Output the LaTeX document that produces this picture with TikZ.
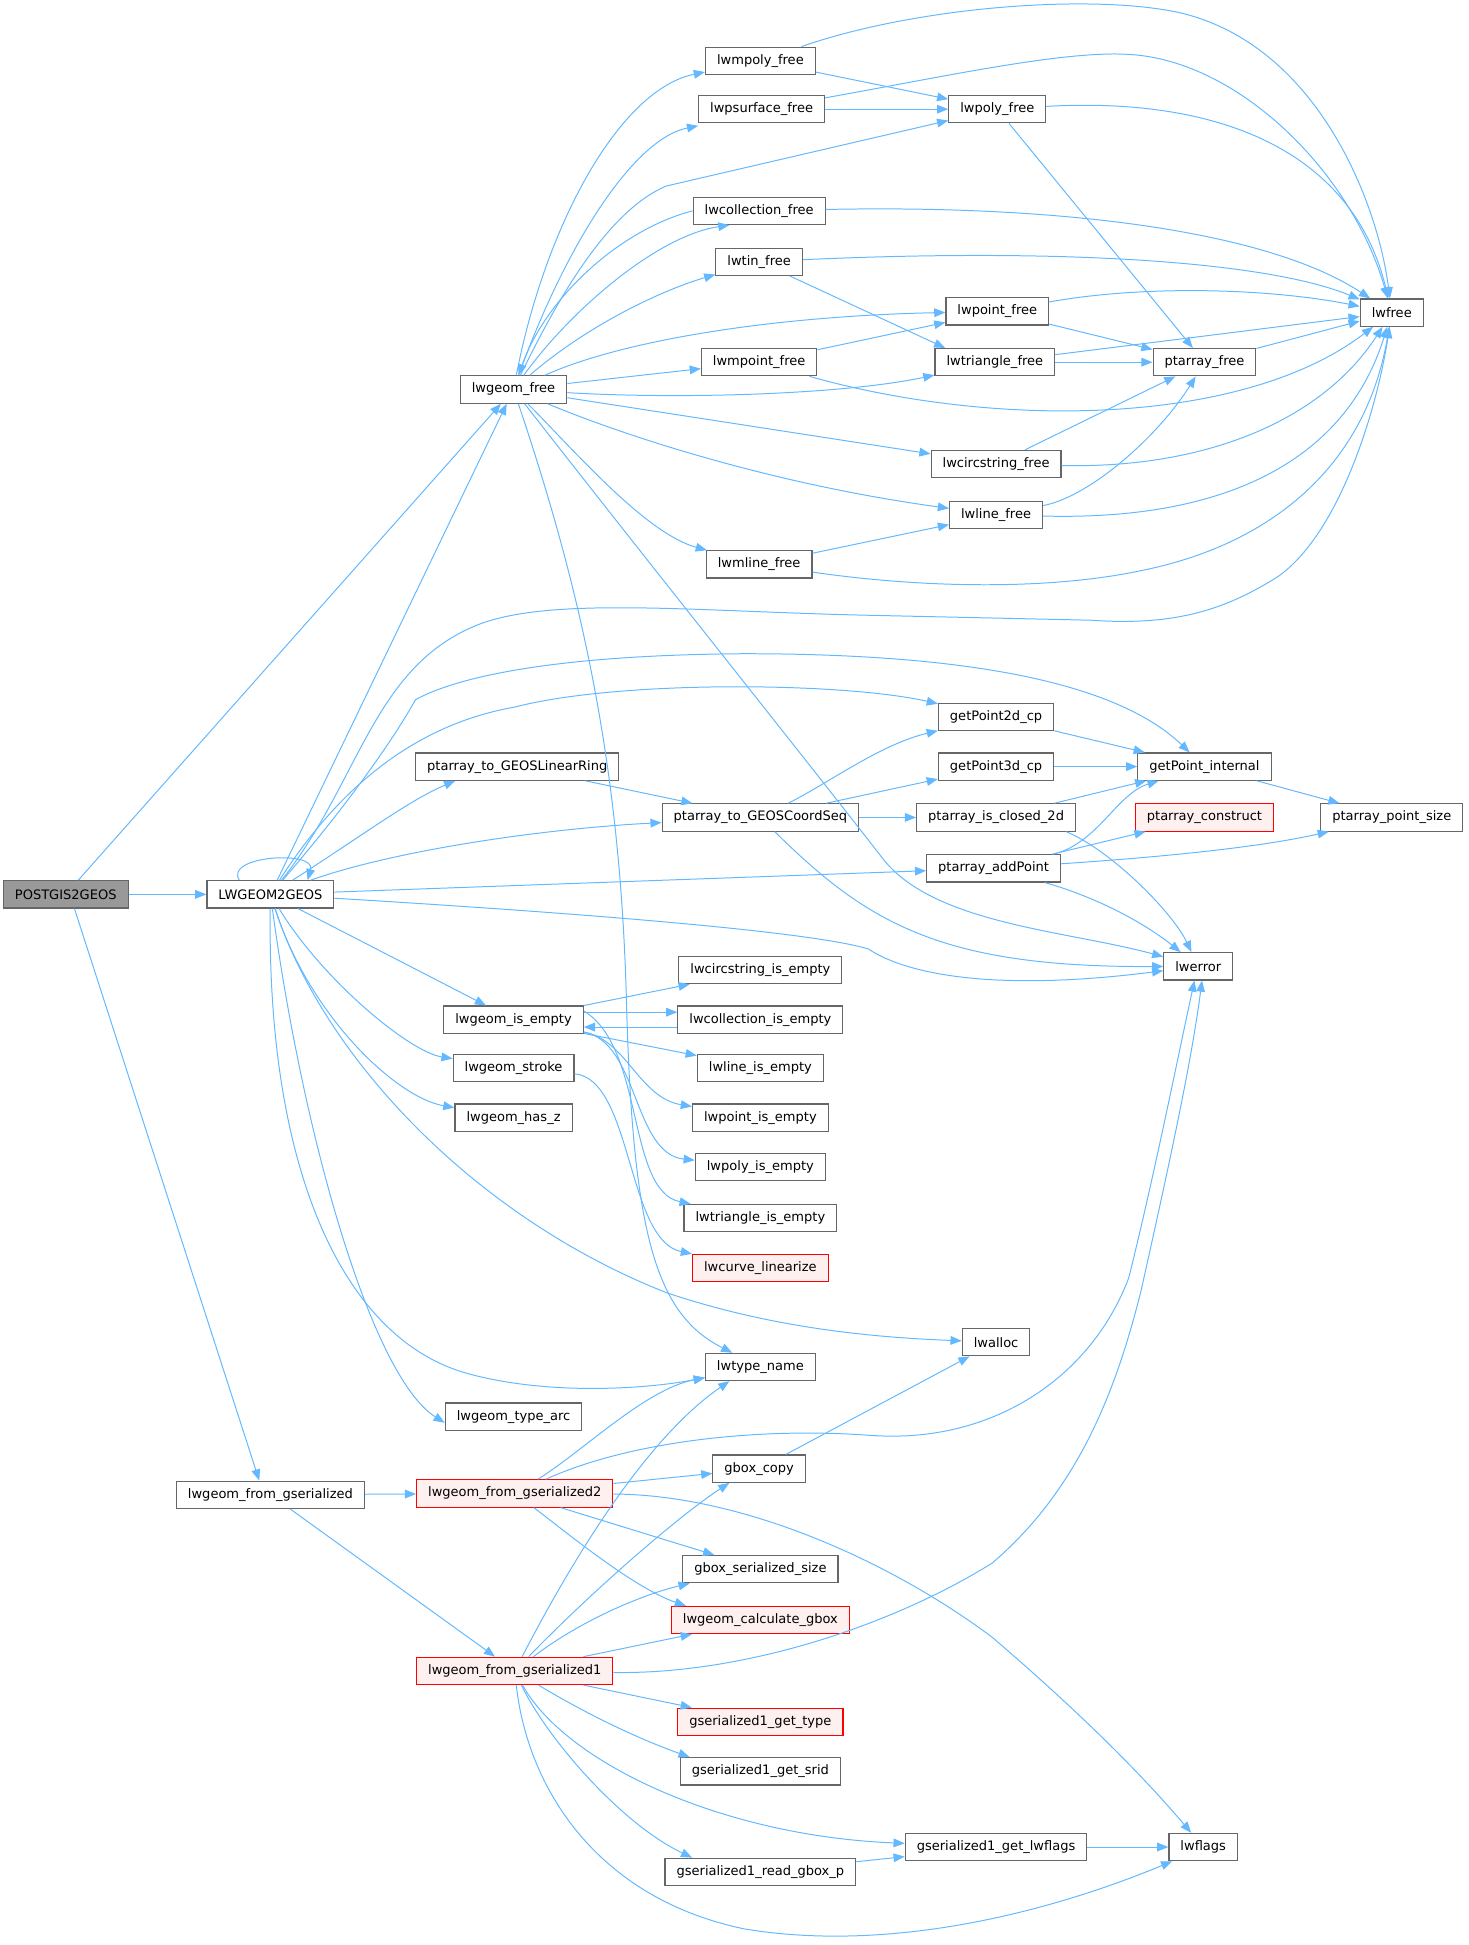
\documentclass[tikz,border=0pt]{standalone}
\usepackage{fontspec}
\usetikzlibrary{arrows.meta}
\newfontfamily\dxfont{DejaVu Sans}

\definecolor{edgeblue}{HTML}{63B8FF}
\definecolor{boxgray}{HTML}{666666}
\definecolor{rootgray}{HTML}{999999}
\definecolor{nodered}{HTML}{FF0000}
\definecolor{redfill}{HTML}{FFF0F0}

\tikzset{
  fn/.style={draw=boxgray, line width=0.9pt, fill=white, minimum height=22pt,
    inner xsep=9.3pt, inner ysep=0pt, font=\dxfont\fontsize{10.5}{12}\selectfont},
  fnroot/.style={fn, fill=rootgray},
  fnred/.style={fn, draw=nodered, fill=redfill},
  call/.style={draw=edgeblue, line width=0.8pt, -{Triangle[length=9pt,width=7pt]}}
}

\begin{document}
\begin{tikzpicture}[x=1pt,y=1pt,yscale=-1]
\useasboundingbox (0,0) rectangle (1184,1568);

% Nodes
\node[fnroot] (root) at (53,721) {POSTGIS2GEOS};
\node[fn] (lwg2g) at (218,721) {LWGEOM2GEOS};
\node[fn] (fromgs) at (218,1205) {lwgeom\_from\_gserialized};
\node[fn] (free) at (414,314) {lwgeom\_free};
\node[fn] (mpolyfree) at (613,49) {lwmpoly\_free};
\node[fn] (psurffree) at (614,88) {lwpsurface\_free};
\node[fn] (polyfree) at (804,88) {lwpoly\_free};
\node[fn] (collfree) at (612,170) {lwcollection\_free};
\node[fn] (tinfree) at (612,211) {lwtin\_free};
\node[fn] (pointfree) at (804,251) {lwpoint\_free};
\node[fn] (lwfree) at (1122,252) {lwfree};
\node[fn] (mpointfree) at (612,292) {lwmpoint\_free};
\node[fn] (trifree) at (802,292) {lwtriangle\_free};
\node[fn] (pafree) at (971,292) {ptarray\_free};
\node[fn] (circfree) at (803,374) {lwcircstring\_free};
\node[fn] (linefree) at (803,415) {lwline\_free};
\node[fn] (mlinefree) at (612,455) {lwmline\_free};
\node[fn] (gp2d) at (803,578) {getPoint2d\_cp};
\node[fn] (gp3d) at (803,618) {getPoint3d\_cp};
\node[fn] (gpint) at (971,618) {getPoint\_internal};
\node[fn] (linring) at (417,618) {ptarray\_to\_GEOSLinearRing};
\node[fn] (coordseq) at (613,659) {ptarray\_to\_GEOSCoordSeq};
\node[fn] (isclosed) at (803,659) {ptarray\_is\_closed\_2d};
\node[fnred] (pacons) at (971,659) {ptarray\_construct};
\node[fn] (ptsize) at (1122,659) {ptarray\_point\_size};
\node[fn] (addpt) at (801,700) {ptarray\_addPoint};
\node[fn] (lwerror) at (966,779) {lwerror};
\node[fn] (circempty) at (613,782) {lwcircstring\_is\_empty};
\node[fn] (isempty) at (414,822) {lwgeom\_is\_empty};
\node[fn] (collempty) at (613,822) {lwcollection\_is\_empty};
\node[fn] (lineempty) at (613,861) {lwline\_is\_empty};
\node[fn] (stroke) at (414,861) {lwgeom\_stroke};
\node[fn] (pointempty) at (613,901) {lwpoint\_is\_empty};
\node[fn] (hasz) at (414,901) {lwgeom\_has\_z};
\node[fn] (polyempty) at (613,941) {lwpoly\_is\_empty};
\node[fn] (triempty) at (613,982) {lwtriangle\_is\_empty};
\node[fnred] (linearize) at (613,1022) {lwcurve\_linearize};
\node[fn] (lwalloc) at (803,1082) {lwalloc};
\node[fn] (typename) at (613,1102) {lwtype\_name};
\node[fn] (typearc) at (414,1142) {lwgeom\_type\_arc};
\node[fn] (gboxcopy) at (612,1184) {gbox\_copy};
\node[fnred] (fromgs2) at (415,1204) {lwgeom\_from\_gserialized2};
\node[fn] (gboxsize) at (613,1265) {gbox\_serialized\_size};
\node[fnred] (calcgbox) at (613,1306) {lwgeom\_calculate\_gbox};
\node[fnred] (fromgs1) at (415,1347) {lwgeom\_from\_gserialized1};
\node[fnred] (gettype) at (613,1388) {gserialized1\_get\_type};
\node[fn] (getsrid) at (613,1428) {gserialized1\_get\_srid};
\node[fn] (getflags) at (803,1489) {gserialized1\_get\_lwflags};
\node[fn] (lwflags) at (970,1489) {lwflags};
\node[fn] (readgbox) at (613,1509) {gserialized1\_read\_gbox\_p};

% POSTGIS2GEOS
\draw[call] (root) -- (free);
\draw[call] (root) -- (lwg2g);
\draw[call] ([xshift=7pt]root.south) -- ([xshift=-9pt]fromgs.north);

% LWGEOM2GEOS
\draw[call] ([xshift=-25pt]lwg2g.north) .. controls (180,690) and (255,685) .. ([xshift=30pt]lwg2g.north);
\draw[call] (lwg2g) -- (free);
\draw[call] (lwg2g) .. controls (290,630) and (300,540) .. (382,505) .. controls (440,480) and (560,493) .. (700,496) -- (880,500) .. controls (950,505) and (990,490) .. (1030,465) .. controls (1080,430) and (1110,330) .. (lwfree);
\draw[call] (lwg2g) .. controls (275,655) and (315,600) .. (335,564) .. controls (370,545) and (450,528) .. (600,527) .. controls (780,527) and (900,550) .. (gpint);
\draw[call] (lwg2g) .. controls (270,640) and (330,585) .. (415,570) .. controls (500,548) and (680,550) .. (gp2d);
\draw[call] (lwg2g) .. controls (290,675) and (330,645) .. ([xshift=-50pt]linring.south);
\draw[call] (lwg2g) .. controls (320,685) and (440,668) .. (coordseq);
\draw[call] (lwg2g) -- (addpt);
\draw[call] (lwg2g) .. controls (450,735) and (650,750) .. (700,765) .. controls (730,785) and (800,800) .. (lwerror);
\draw[call] (lwg2g) -- (isempty);
\draw[call] (lwg2g) .. controls (260,790) and (330,848) .. (stroke);
\draw[call] (lwg2g) .. controls (250,820) and (320,885) .. (hasz);
\draw[call] (lwg2g) .. controls (260,850) and (380,980) .. (537,1042) .. controls (620,1070) and (700,1078) .. (lwalloc);
\draw[call] (lwg2g) .. controls (215,950) and (280,1080) .. (376,1107) .. controls (440,1125) and (520,1120) .. (typename);
\draw[call] (lwg2g) .. controls (245,920) and (300,1110) .. ([yshift=5pt]typearc.west);

% lwgeom_free
\draw[call] (free) .. controls (440,180) and (500,72) .. (mpolyfree);
\draw[call] (free) .. controls (455,200) and (510,112) .. ([yshift=2pt]psurffree.south west);
\draw[call] (free) .. controls (450,240) and (490,170) .. (537,150) -- (polyfree);
\draw[call] (free) .. controls (460,250) and (530,190) .. ([xshift=-24pt]collfree.south);
\draw[call] (collfree.west) .. controls (500,185) and (440,240) .. (free);
\draw[call] (free) .. controls (470,265) and (530,235) .. (tinfree);
\draw[call] (free) .. controls (500,275) and (620,255) .. (pointfree);
\draw[call] (free) -- (mpointfree);
\draw[call] (free) .. controls (550,322) and (680,318) .. (trifree);
\draw[call] (free) -- (circfree);
\draw[call] (free) .. controls (500,350) and (620,390) .. (linefree);
\draw[call] (free) .. controls (460,360) and (520,430) .. (mlinefree);
\draw[call] (free) .. controls (520,450) and (640,600) .. (710,690) .. controls (750,745) and (860,750) .. (lwerror);
\draw[call] (free) .. controls (470,480) and (500,620) .. (505,806) .. controls (510,1000) and (530,1060) .. (typename);

% the *_free functions
\draw[call] (mpolyfree) -- (polyfree);
\draw[call] (mpolyfree) .. controls (740,5) and (880,-5) .. (950,10) .. controls (1060,35) and (1110,160) .. (lwfree);
\draw[call] (psurffree) -- (polyfree);
\draw[call] (psurffree) .. controls (760,62) and (860,40) .. (912,44) .. controls (1000,50) and (1090,140) .. (lwfree);
\draw[call] (polyfree) .. controls (980,78) and (1090,120) .. (lwfree);
\draw[call] (polyfree) -- (pafree);
\draw[call] (collfree) .. controls (850,165) and (1020,185) .. (lwfree);
\draw[call] (tinfree) .. controls (850,200) and (1020,210) .. (lwfree);
\draw[call] (tinfree) -- ([xshift=-40pt]trifree.north);
\draw[call] (pointfree) .. controls (920,230) and (1020,232) .. (lwfree);
\draw[call] (pointfree) -- (pafree);
\draw[call] (mpointfree) -- (pointfree);
\draw[call] (mpointfree) .. controls (800,345) and (1000,345) .. (lwfree);
\draw[call] (trifree) -- (pafree);
\draw[call] (trifree) -- (lwfree);
\draw[call] (pafree) -- (lwfree);
\draw[call] (circfree) -- (pafree);
\draw[call] (circfree) .. controls (970,378) and (1065,340) .. (lwfree);
\draw[call] (linefree) .. controls (880,400) and (935,350) .. (pafree);
\draw[call] (linefree) .. controls (990,420) and (1085,370) .. (lwfree);
\draw[call] (mlinefree) -- (linefree);
\draw[call] (mlinefree) .. controls (750,475) and (850,475) .. (920,460) .. controls (1020,440) and (1100,380) .. (lwfree);

% point arrays
\draw[call] (linring) -- (coordseq);
\draw[call] (coordseq) .. controls (670,630) and (710,600) .. (gp2d);
\draw[call] (coordseq) -- (gp3d);
\draw[call] (coordseq) -- (isclosed);
\draw[call] (coordseq) .. controls (700,745) and (760,780) .. (lwerror);
\draw[call] (gp2d) -- (gpint);
\draw[call] (gp3d) -- (gpint);
\draw[call] (gpint) -- (ptsize);
\draw[call] (isclosed) -- (gpint);
\draw[call] ([xshift=-8pt]isclosed.south east) .. controls (895,685) and (945,735) .. (lwerror);
\draw[call] (addpt) .. controls (885,680) and (900,640) .. (gpint);
\draw[call] (addpt) -- (pacons);
\draw[call] (addpt) .. controls (950,690) and (1020,682) .. (ptsize);
\draw[call] (addpt) .. controls (880,722) and (920,742) .. (lwerror);

% is_empty
\draw[call] (isempty) -- (circempty);
\draw[call] ([yshift=6pt]collempty.west) -- ([yshift=6pt]isempty.east);
\draw[call] ([yshift=-6pt]isempty.east) -- ([yshift=-6pt]collempty.west);
\draw[call] (isempty) -- (lineempty);
\draw[call] (isempty) .. controls (505,838) and (515,885) .. (pointempty);
\draw[call] (isempty) .. controls (515,840) and (510,930) .. (polyempty);
\draw[call] ([yshift=-7pt]isempty.east) .. controls (520,845) and (505,960) .. (triempty);
\draw[call] (stroke) .. controls (510,870) and (505,1000) .. (linearize);

% gserialized
\draw[call] (gboxcopy) -- (lwalloc);
\draw[call] (fromgs) -- (fromgs2);
\draw[call] (fromgs) -- (fromgs1);
\draw[call] (fromgs2) .. controls (470,1170) and (520,1120) .. (typename);
\draw[call] (fromgs2) .. controls (500,1165) and (600,1150) .. (700,1157) .. controls (800,1165) and (880,1110) .. (910,1030) .. controls (930,950) and (950,850) .. ([xshift=-3pt]lwerror.south);
\draw[call] (fromgs2) -- (gboxcopy);
\draw[call] (fromgs2) .. controls (600,1205) and (720,1260) .. (800,1320) .. controls (870,1380) and (920,1430) .. (lwflags);
\draw[call] (fromgs2) -- (gboxsize);
\draw[call] (fromgs2) .. controls (450,1230) and (510,1280) .. ([xshift=-60pt]calcgbox.north);
\draw[call] (fromgs1) .. controls (460,1260) and (520,1160) .. ([xshift=-25pt]typename.south);
\draw[call] (fromgs1) .. controls (480,1280) and (550,1220) .. ([xshift=-24pt]gboxcopy.south);
\draw[call] (fromgs1) .. controls (470,1305) and (520,1285) .. ([xshift=-57pt]gboxsize.south);
\draw[call] (fromgs1) -- (calcgbox);
\draw[call] (fromgs1) .. controls (600,1350) and (720,1310) .. (800,1260) .. controls (870,1200) and (900,1120) .. (920,1040) .. controls (940,950) and (960,860) .. ([xshift=3pt]lwerror.south);
\draw[call] (fromgs1) -- (gettype);
\draw[call] (fromgs1) .. controls (470,1380) and (510,1400) .. ([xshift=8pt]getsrid.north west);
\draw[call] (fromgs1) .. controls (455,1420) and (580,1480) .. (getflags);
\draw[call] (fromgs1) .. controls (440,1400) and (500,1470) .. ([xshift=-55pt]readgbox.north);
\draw[call] (fromgs1) .. controls (425,1440) and (480,1530) .. (600,1555) .. controls (720,1575) and (850,1540) .. ([xshift=-25pt]lwflags.south);
\draw[call] (readgbox) -- (getflags);
\draw[call] (getflags) -- (lwflags);

\end{tikzpicture}
\end{document}
